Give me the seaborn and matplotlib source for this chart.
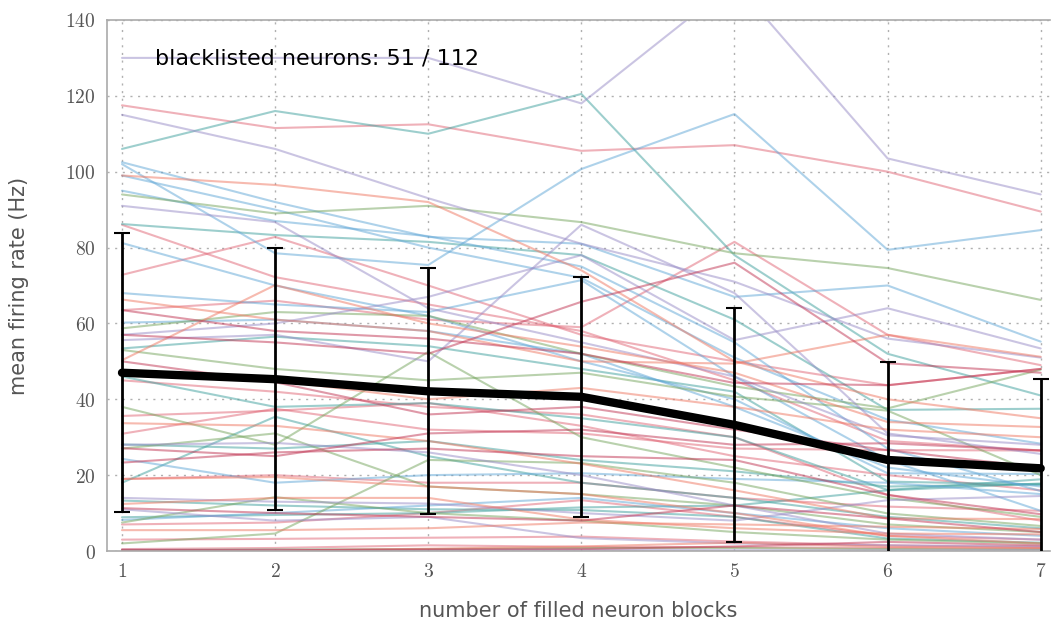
import numpy as np
import pandas as pd
import matplotlib
matplotlib.use("Agg")
import matplotlib.pyplot as plt
import seaborn as sns
from matplotlib.ticker import FuncFormatter, MultipleLocator

# ---------------- data ----------------
blocks = [1, 2, 3, 4, 5, 6, 7]

purple_lines = [
    [130, 130, 130, 118, 150, 103.5, 94],
    [115, 106, 93, 81, 71, 56, 51],
    [91, 86.7, 64, 55, 46, 30.5, 28],
    [57, 60, 67, 78, 55.6, 64, 53.4],
    [55.6, 57, 50, 86, 68, 31, 25.6],
    [14, 13, 12.5, 10, 8, 13.4, 14.5],
    [11, 8, 9, 3.4, 2, 1.5, 1.2],
    [0.3, 0.3, 0.3, 0.3, 0.2, 0.2, 0.2],
    [28, 28.5, 26, 20, 12, 4.6, 3],
]
red_lines = [
    [117.5, 111.5, 112.5, 105.5, 107, 100, 89.5],
    [86, 72.2, 65, 58, 45, 29, 26.5],
    [63.5, 66, 61, 59, 81.5, 57, 49],
    [72.8, 82.8, 70, 57, 50, 43.7, 48],
    [35.6, 37, 39, 33, 25, 20, 16],
    [30.9, 37.5, 32, 31, 27, 26.6, 26.5],
    [7, 7.5, 10, 13.4, 9, 4, 3],
    [3, 3.2, 3.5, 3.8, 2.5, 1.5, 1],
    [0.5, 0.8, 1.5, 1.1, 1, 0.8, 0.6],
    [19, 20, 18, 18, 14, 11.7, 10.6],
    [45, 42, 38, 36, 30, 14.8, 8],
]
teal_lines = [
    [106, 116, 110, 120.5, 78, 52, 41],
    [86.2, 83.3, 81.5, 78, 61, 37.2, 37.5],
    [53.4, 56.5, 54, 48, 42, 18.3, 17.5],
    [46, 38, 39, 35, 30, 16.1, 18.9],
    [28.1, 27, 29, 24, 21, 17, 17.6],
    [18, 35.4, 25, 18, 14, 9, 6],
    [13.3, 12, 11, 10.8, 9, 3.3, 2.2],
    [8.9, 9.5, 10, 11.5, 12, 16, 17.8],
]
blue_lines = [
    [102.5, 92, 82.8, 81, 67, 70, 55.2],
    [102, 78.5, 75.4, 100.7, 115.2, 79.4, 84.6],
    [99, 90, 80, 72, 51, 34.6, 28.3],
    [95, 87, 83, 75, 55, 27, 15.8],
    [81.2, 70, 62, 50, 40, 20.5, 20.3],
    [68, 65, 63, 71.4, 46, 24, 10.6],
    [60.2, 61, 58, 52, 38, 22, 17],
    [24.3, 18, 20, 20.5, 19, 18, 15],
    [8.2, 10, 12, 14, 10, 6, 4],
]
green_lines = [
    [94, 89, 91, 86.7, 78.5, 74.6, 66.2],
    [58.7, 63, 62, 52, 43.4, 37.6, 47.8],
    [53, 48, 45, 47, 40.7, 37, 20],
    [38, 28, 52.5, 30, 22, 14, 9],
    [7.5, 14.2, 10, 8, 5, 3, 2],
    [2, 4.6, 24, 23.2, 18, 9.9, 6.6],
    [27, 31, 17, 15, 12, 7, 5],
    [0.2, 0.4, 0.5, 0.8, 0.8, 0.5, 0.4],
]
salmon_lines = [
    [99, 96.5, 92, 74, 50, 40, 35],
    [66.3, 61, 58, 50, 49.4, 57, 51.2],
    [50.3, 70.1, 60, 53.9, 47, 34, 32.7],
    [33.7, 33, 29, 23, 16, 8.6, 8.4],
    [12.4, 14, 14, 8.3, 6, 4.6, 4.4],
    [5.5, 5.5, 6, 7.5, 7, 6.4, 5.8],
    [47, 45, 40, 43, 38, 32, 30],
    [19, 19.5, 17, 15, 10, 4, 2],
    [0.1, 0.1, 0.6, 1.2, 2.2, 1.1, 0.8],
]
crimson_lines = [
    [57, 55, 52, 65.7, 76, 49.5, 47],
    [63.5, 58, 56, 52, 44.3, 43.7, 48],
    [27.1, 25, 31, 32, 28, 28.4, 26.5],
    [23.3, 26, 27, 25, 24, 14.8, 9.7],
    [11.3, 10, 9, 8, 12, 8.6, 5],
    [50, 44.5, 36, 38, 32, 26.6, 22],
    [0.3, 0.2, 0.4, 0.5, 1.2, 2.4, 1.5],
]

mean_rate = [47.0, 45.3, 42.1, 40.65, 33.25, 24.0, 21.8]
std_rate = [36.8, 34.5, 32.4, 31.65, 30.75, 25.9, 23.5]

annotation = "blacklisted neurons: 51 / 112"

# ---------------- build table ----------------
groups = {
    "red": red_lines, "teal": teal_lines, "blue": blue_lines,
    "green": green_lines, "purple": purple_lines,
    "salmon": salmon_lines, "crimson": crimson_lines,
}
rows = []
nid = 0
for g, lines in groups.items():
    for ln in lines:
        for b, v in zip(blocks, ln):
            rows.append({"neuron": nid, "group": g, "blocks": b, "rate": v})
        nid += 1
df = pd.DataFrame(rows)

palette = {
    "red": "#e06474",
    "teal": "#3d9f9c",
    "blue": "#5fa6d6",
    "green": "#74a45c",
    "purple": "#978bc6",
    "salmon": "#ef7660",
    "crimson": "#c03452",
}

# ---------------- plot ----------------
sns.set_theme(style="white")
plt.rcParams["mathtext.fontset"] = "cm"
plt.rcParams["font.family"] = ["DejaVu Sans"]

fig = plt.figure(figsize=(10.52, 6.26), dpi=100)
ax = fig.add_axes([0.1017, 0.1198, 0.8963, 0.8483])

sns.lineplot(data=df, x="blocks", y="rate", hue="group", units="neuron",
             estimator=None, palette=palette, legend=False, alpha=0.5,
             linewidth=1.5, ax=ax, zorder=2)

ax.errorbar(blocks, mean_rate, yerr=std_rate, color="black", linewidth=6,
            elinewidth=2.0, capsize=6, capthick=1.5, zorder=5)

ax.set_xlim(0.902, 7.06)
ax.set_ylim(0, 140)
ax.xaxis.set_major_locator(MultipleLocator(1))
ax.yaxis.set_major_locator(MultipleLocator(20))
fmt = FuncFormatter(lambda v, p: r"$%d$" % int(round(v)))
ax.xaxis.set_major_formatter(fmt)
ax.yaxis.set_major_formatter(fmt)
ax.tick_params(axis="both", length=0, labelsize=14, colors="#555555", pad=8)

ax.grid(True, color="#b0b0b0", linestyle=(0, (1.5, 4)), linewidth=1.0, zorder=0)
ax.set_axisbelow(True)

for side in ["left", "top", "bottom"]:
    ax.spines[side].set_color("#aaaaaa")
    ax.spines[side].set_linewidth(1.2)
ax.spines["right"].set_visible(False)

ax.set_xlabel("number of filled neuron blocks", fontsize=15, color="#555555",
              labelpad=14)
ax.set_ylabel("mean firing rate (Hz)", fontsize=15, color="#555555",
              labelpad=26)

ax.text(0.051, 0.928, annotation, transform=ax.transAxes, fontsize=16,
        color="black", va="center", ha="left", zorder=6)

fig.savefig("out.png", dpi=100)
